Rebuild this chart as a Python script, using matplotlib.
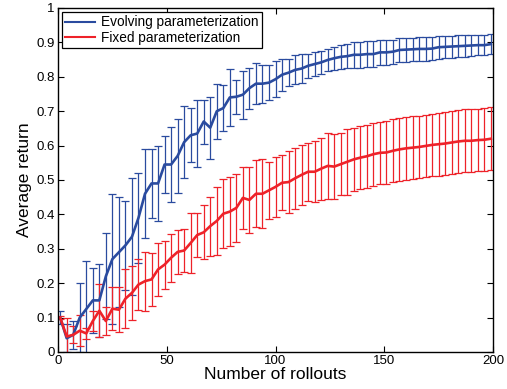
import numpy as np
import matplotlib
matplotlib.use("Agg")
import matplotlib.pyplot as plt
from matplotlib.lines import Line2D

plt.rcParams['font.family'] = ['Liberation Sans', 'DejaVu Sans']

rollouts = list(range(1, 200, 3))

evolving_mean = [0.10, 0.04, 0.05, 0.10, 0.125, 0.15, 0.15, 0.22, 0.27, 0.29,
                 0.31, 0.335, 0.39, 0.46, 0.49, 0.49, 0.545, 0.545, 0.57, 0.61,
                 0.63, 0.635, 0.67, 0.652, 0.70, 0.709, 0.74, 0.742, 0.748, 0.767,
                 0.78, 0.78, 0.783, 0.793, 0.806, 0.812, 0.82, 0.824, 0.832, 0.837,
                 0.842, 0.849, 0.854, 0.858, 0.86, 0.864, 0.864, 0.866, 0.866, 0.871,
                 0.871, 0.873, 0.878, 0.879, 0.88, 0.881, 0.881, 0.882, 0.886, 0.887,
                 0.888, 0.889, 0.89, 0.891, 0.892, 0.892, 0.895]
evolving_err = [0.02, 0.04, 0.04, 0.10, 0.14, 0.095, 0.105, 0.125, 0.19, 0.16,
                0.13, 0.17, 0.13, 0.13, 0.10, 0.11, 0.083, 0.11, 0.107, 0.104,
                0.078, 0.098, 0.064, 0.09, 0.08, 0.068, 0.082, 0.05, 0.07, 0.06,
                0.06, 0.055, 0.05, 0.052, 0.047, 0.04, 0.042, 0.042, 0.035, 0.035,
                0.033, 0.032, 0.033, 0.035, 0.035, 0.038, 0.038, 0.037, 0.037, 0.036,
                0.036, 0.035, 0.035, 0.035, 0.034, 0.034, 0.034, 0.034, 0.033, 0.033,
                0.032, 0.032, 0.031, 0.031, 0.030, 0.030, 0.030]

fixed_mean = [0.10, 0.045, 0.05, 0.062, 0.054, 0.09, 0.12, 0.09, 0.126, 0.123,
              0.155, 0.172, 0.196, 0.206, 0.211, 0.24, 0.254, 0.274, 0.291, 0.295,
              0.317, 0.34, 0.348, 0.366, 0.381, 0.402, 0.408, 0.419, 0.448, 0.442,
              0.46, 0.46, 0.47, 0.48, 0.492, 0.494, 0.505, 0.515, 0.524, 0.524,
              0.533, 0.541, 0.539, 0.546, 0.553, 0.56, 0.565, 0.569, 0.575, 0.579,
              0.58, 0.585, 0.589, 0.592, 0.594, 0.596, 0.599, 0.602, 0.604, 0.606,
              0.609, 0.612, 0.614, 0.614, 0.616, 0.617, 0.62]
fixed_err = [0.005, 0.055, 0.025, 0.045, 0.016, 0.03, 0.077, 0.04, 0.062, 0.065,
             0.085, 0.078, 0.074, 0.086, 0.076, 0.077, 0.07, 0.07, 0.063, 0.062,
             0.088, 0.065, 0.079, 0.086, 0.10, 0.10, 0.10, 0.098, 0.09, 0.096,
             0.097, 0.10, 0.083, 0.087, 0.08, 0.09, 0.089, 0.087, 0.085, 0.088,
             0.09, 0.095, 0.094, 0.09, 0.096, 0.091, 0.091, 0.091, 0.091, 0.091,
             0.091, 0.091, 0.091, 0.091, 0.091, 0.091, 0.091, 0.091, 0.091, 0.091,
             0.091, 0.091, 0.091, 0.091, 0.091, 0.091, 0.091]

series_labels = ["Evolving parameterization", "Fixed parameterization"]
x_ticks = [0, 50, 100, 150, 200]
y_ticks = [0, 0.1, 0.2, 0.3, 0.4, 0.5, 0.6, 0.7, 0.8, 0.9, 1]
y_ticklabels = ["0", "0.1", "0.2", "0.3", "0.4", "0.5", "0.6", "0.7", "0.8", "0.9", "1"]

blue = "#2a4b9f"
red = "#ee2229"

fig = plt.figure(figsize=(5.07, 3.89), dpi=100)
ax = fig.add_axes([58 / 507, 37 / 389, 435 / 507, 344 / 389])

for mean, err, col, lab in [(evolving_mean, evolving_err, blue, series_labels[0]),
                            (fixed_mean, fixed_err, red, series_labels[1])]:
    ax.errorbar(rollouts, mean, yerr=err, color=col, ecolor=col, elinewidth=0.9,
                capsize=2.6, capthick=0.9, linewidth=1.9, label=lab)

ax.set_xlim(0, 200)
ax.set_ylim(0, 1)
ax.set_xticks(x_ticks)
ax.set_yticks(y_ticks)
ax.set_yticklabels(y_ticklabels)
ax.tick_params(direction='in', top=True, right=True, length=4, width=0.8,
               labelsize=9.5, pad=2.5)
for s in ax.spines.values():
    s.set_linewidth(1.0)

ax.set_xlabel("Number of rollouts", fontsize=12.5, labelpad=0)
ax.set_ylabel("Average return", fontsize=12.5, labelpad=3)

labels = series_labels
h2 = [Line2D([], [], color=blue, lw=1.5), Line2D([], [], color=red, lw=1.5)]
leg = ax.legend(h2, labels, loc='upper left', fontsize=9.8, frameon=True,
                fancybox=False, edgecolor='black', framealpha=1,
                borderaxespad=0.3, handlelength=2.2, handletextpad=0.4,
                borderpad=0.25, labelspacing=0.1)
leg.get_frame().set_linewidth(0.9)

fig.savefig("out.png", dpi=100)
